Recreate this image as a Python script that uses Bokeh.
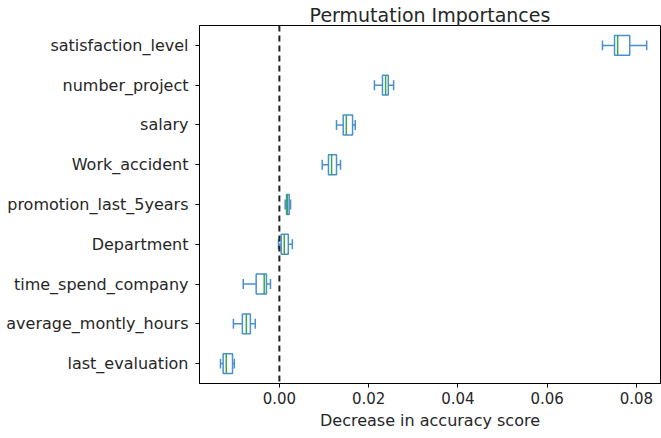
from bokeh.plotting import figure
from bokeh.models import FactorRange, Range1d, Span, ColumnDataSource, FixedTicker, NumeralTickFormatter
from bokeh.embed import file_html
from bokeh.resources import INLINE

features = ["satisfaction_level", "number_project", "salary", "Work_accident",
            "promotion_last_5years", "Department", "time_spend_company",
            "average_montly_hours", "last_evaluation"]
whisker_low = [0.0724, 0.0213, 0.0128, 0.0096, 0.0013, -0.0002, -0.0081, -0.0103, -0.0132]
q1 = [0.0751, 0.0231, 0.0143, 0.0110, 0.0016, 0.0004, -0.0052, -0.0083, -0.0126]
median = [0.0758, 0.0238, 0.0150, 0.0117, 0.0018, 0.0011, -0.0034, -0.0074, -0.0119]
q3 = [0.0785, 0.0244, 0.0164, 0.0128, 0.0022, 0.0020, -0.0029, -0.0065, -0.0105]
whisker_high = [0.0823, 0.0256, 0.0170, 0.0137, 0.0025, 0.0029, -0.0020, -0.0054, -0.0101]
x_ticks = [0.00, 0.02, 0.04, 0.06, 0.08]

BLUE = "#4a8fcf"
GREEN = "#3aa84a"
TXT = "#262626"
FONT = "DejaVu Sans"

p = figure(width=661, height=438, output_backend="svg", toolbar_location=None,
           y_range=FactorRange(*features[::-1], range_padding=0),
           x_range=Range1d(-0.0179, 0.0854),
           title="Permutation Importances",
           min_border_left=199, min_border_right=1, min_border_top=25, min_border_bottom=55)
p.title.align = "center"
p.title.text_font = FONT
p.title.text_font_size = "19px"
p.title.text_font_style = "normal"
p.title.text_color = TXT
p.title.standoff = 0
p.title.offset = 0

src = ColumnDataSource(dict(
    y=features, lo=whisker_low, q1=q1, med=median, q3=q3, hi=whisker_high,
    cap_a=[(f, -0.125) for f in features], cap_b=[(f, 0.125) for f in features],
    box_a=[(f, -0.25) for f in features], box_b=[(f, 0.25) for f in features],
))

# whiskers
p.segment(x0="lo", y0="y", x1="q1", y1="y", source=src, line_color=BLUE, line_width=1.5)
p.segment(x0="q3", y0="y", x1="hi", y1="y", source=src, line_color=BLUE, line_width=1.5)
# caps
p.segment(x0="lo", y0="cap_a", x1="lo", y1="cap_b", source=src, line_color=BLUE, line_width=1.5)
p.segment(x0="hi", y0="cap_a", x1="hi", y1="cap_b", source=src, line_color=BLUE, line_width=1.5)
# boxes
p.hbar(y="y", left="q1", right="q3", height=0.5, source=src,
       fill_color="white", line_color=BLUE, line_width=1.5)
# medians
p.segment(x0="med", y0="box_a", x1="med", y1="box_b", source=src, line_color=GREEN, line_width=1.5)

p.add_layout(Span(location=0, dimension="height", line_color="#222222",
                  line_width=2, line_dash="6 4"))

p.xgrid.visible = False
p.ygrid.visible = False
p.outline_line_color = "#000000"
p.outline_line_width = 1

p.xaxis.ticker = FixedTicker(ticks=x_ticks)
p.xaxis.formatter = NumeralTickFormatter(format="0.00")
p.xaxis.axis_label = "Decrease in accuracy score"
for ax in (p.xaxis, p.yaxis):
    ax.axis_line_color = "#000000"
    ax.major_tick_line_color = "#000000"
    ax.major_tick_out = 4
    ax.major_tick_in = 0
    ax.minor_tick_line_color = None
    ax.major_label_text_font = FONT
    ax.major_label_text_color = TXT
    ax.axis_label_text_font = FONT
    ax.axis_label_text_font_size = "16px"
    ax.axis_label_text_font_style = "normal"
    ax.axis_label_text_color = TXT
p.yaxis.major_label_text_font_size = "16px"
p.xaxis.major_label_text_font_size = "15px"
p.yaxis.major_label_standoff = 7
p.xaxis.major_label_standoff = 4
p.xaxis.axis_label_standoff = 4

open("out.html", "w").write(file_html(p, INLINE))
